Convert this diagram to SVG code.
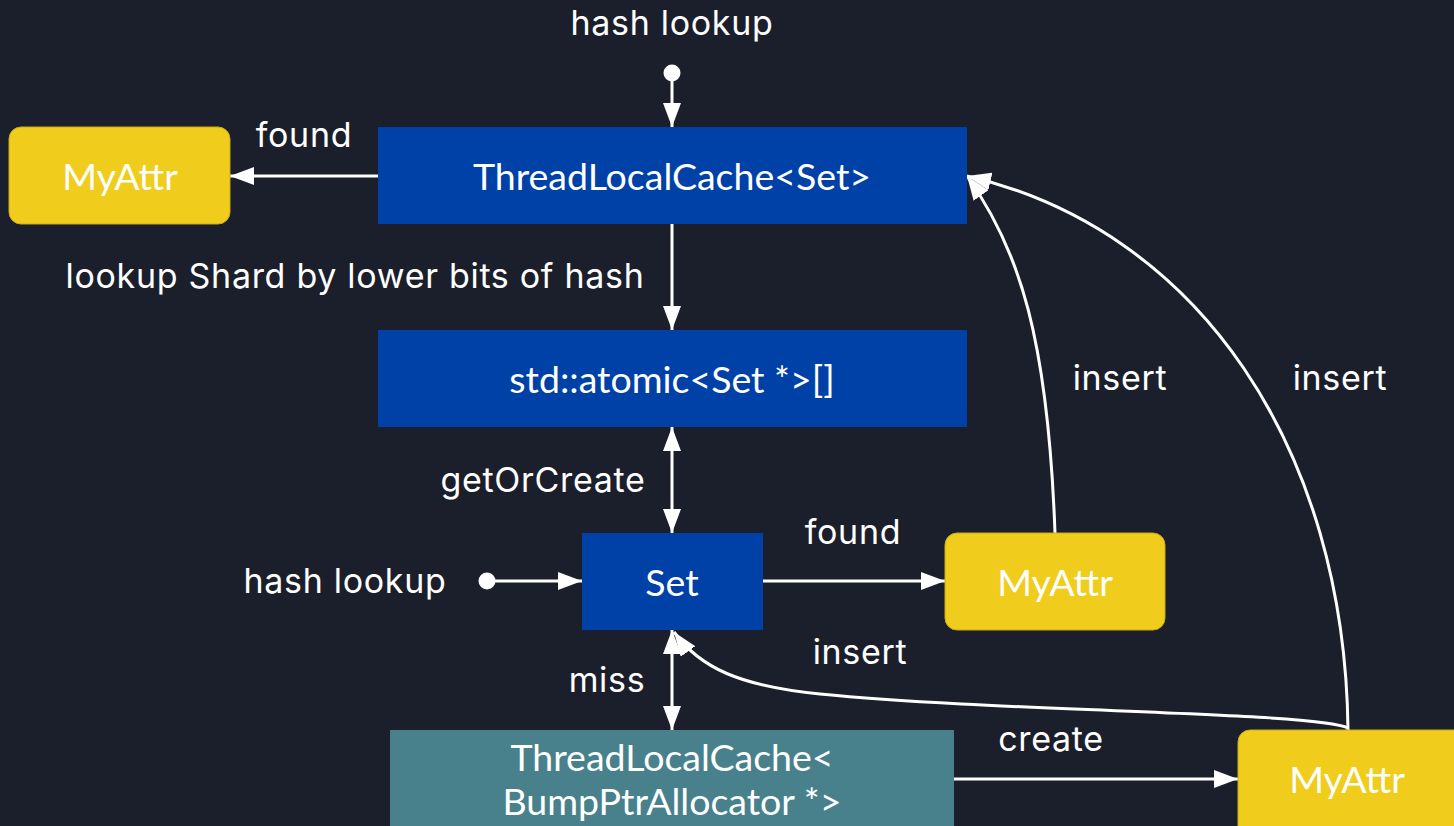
<svg xmlns="http://www.w3.org/2000/svg" width="1454" height="826" viewBox="0 0 1454 826">
  <defs>
    <style>
      .bg { fill: #1b1f2b; }
      .blue { fill: #0041a8; }
      .teal { fill: #48818c; }
      .attr { fill: #f0cd1c; stroke: #c9aa17; stroke-width: 1; }
      .ntext { font-family: Lato, "Liberation Sans", sans-serif; font-size: 37.5px; fill: #ffffff; text-anchor: middle; }
      .label { font-family: Inter, "Liberation Sans", sans-serif; font-size: 34px; letter-spacing: 0.7px; fill: #ffffff; text-anchor: middle; }
      .edge { fill: none; stroke: #ffffff; stroke-width: 3; }
      .dot { fill: #ffffff; }
    </style>
    <marker id="arrow" markerUnits="userSpaceOnUse" markerWidth="24" markerHeight="18" refX="24" refY="9" orient="auto">
      <path d="M0,0 L24,9 L0,18 z" fill="#ffffff"/>
    </marker>
    <marker id="arrowStart" markerUnits="userSpaceOnUse" markerWidth="24" markerHeight="18" refX="0" refY="9" orient="auto">
      <path d="M24,0 L0,9 L24,18 z" fill="#ffffff"/>
    </marker>
  </defs>

  <rect class="bg" x="0" y="0" width="1454" height="826"/>

  <!-- connectors -->
  <g id="connectors">
    <circle class="dot" cx="672" cy="73" r="8.5"/>
    <line class="edge" x1="672" y1="73" x2="672" y2="127" marker-end="url(#arrow)"/>
    <text class="label" x="672" y="35">hash lookup</text>

    <line class="edge" x1="378" y1="176" x2="230" y2="176" marker-end="url(#arrow)"/>
    <text class="label" x="304" y="147">found</text>

    <line class="edge" x1="672" y1="224" x2="672" y2="330" marker-end="url(#arrow)"/>
    <text class="label" x="355" y="288">lookup Shard by lower bits of hash</text>

    <line class="edge" x1="672" y1="427" x2="672" y2="533" marker-start="url(#arrowStart)" marker-end="url(#arrow)"/>
    <text class="label" x="543" y="492">getOrCreate</text>

    <circle class="dot" cx="487" cy="581" r="8.5"/>
    <line class="edge" x1="487" y1="581" x2="582" y2="581" marker-end="url(#arrow)"/>
    <text class="label" x="345" y="593">hash lookup</text>

    <line class="edge" x1="763" y1="581" x2="945" y2="581" marker-end="url(#arrow)"/>
    <text class="label" x="853" y="544">found</text>

    <line class="edge" x1="672" y1="630" x2="672" y2="730" marker-start="url(#arrowStart)" marker-end="url(#arrow)"/>
    <text class="label" x="607" y="692">miss</text>

    <line class="edge" x1="954" y1="779" x2="1238" y2="779" marker-end="url(#arrow)"/>
    <text class="label" x="1051" y="751">create</text>

    <path class="edge" d="M1348,728 C1320,712 1000,712 820,694 C740,686 700,668 674,632" stroke-width="3.5" marker-end="url(#arrow)"/>
    <text class="label" x="860" y="664">insert</text>

    <path class="edge" d="M1055,533 C1048,340 1020,250 967,176" marker-end="url(#arrow)"/>
    <text class="label" x="1120" y="390">insert</text>

    <path class="edge" d="M1348,730 C1345,450 1200,230 967,176" marker-end="url(#arrow)"/>
    <text class="label" x="1340" y="390">insert</text>
  </g>

  <!-- nodes -->
  <g id="tlc-set">
    <rect class="blue" x="378" y="127" width="589" height="97"/>
    <text class="ntext" x="672" y="190">ThreadLocalCache&lt;Set&gt;</text>
  </g>
  <g id="myattr-found">
    <rect class="attr" x="9" y="127" width="221" height="97" rx="12"/>
    <text class="ntext" x="120" y="190">MyAttr</text>
  </g>
  <g id="atomic-array">
    <rect class="blue" x="378" y="330" width="589" height="97"/>
    <text class="ntext" x="672" y="393">std::atomic&lt;Set *&gt;[]</text>
  </g>
  <g id="set">
    <rect class="blue" x="582" y="533" width="181" height="97"/>
    <text class="ntext" x="672" y="596">Set</text>
  </g>
  <g id="myattr-set">
    <rect class="attr" x="945" y="533" width="220" height="97" rx="12"/>
    <text class="ntext" x="1055" y="596">MyAttr</text>
  </g>
  <g id="tlc-allocator">
    <rect class="teal" x="390" y="730" width="564" height="110"/>
    <text class="ntext" x="672" y="771">ThreadLocalCache&lt;</text>
    <text class="ntext" x="672" y="815">BumpPtrAllocator *&gt;</text>
  </g>
  <g id="myattr-new">
    <rect class="attr" x="1238" y="730" width="230" height="110" rx="12"/>
    <text class="ntext" x="1347" y="793">MyAttr</text>
  </g>
</svg>
